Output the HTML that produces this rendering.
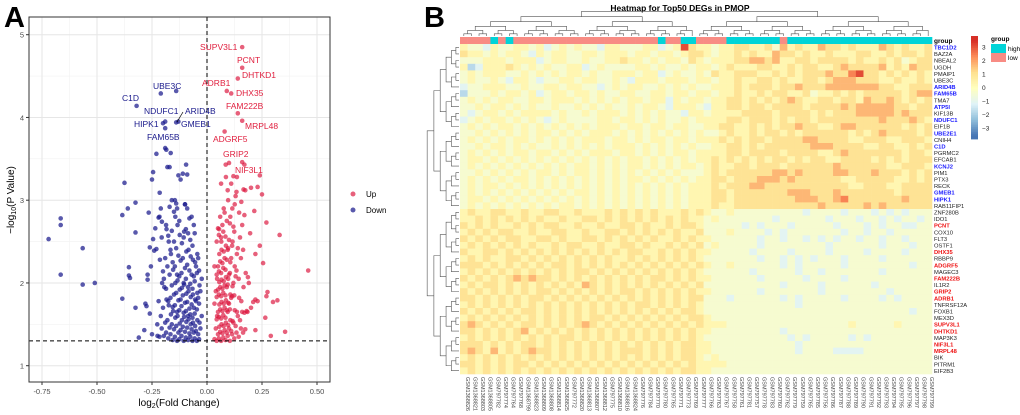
<!DOCTYPE html>
<html><head><meta charset="utf-8"><style>
body{margin:0;background:#fff;width:1020px;height:415px;overflow:hidden;font-family:"Liberation Sans",sans-serif}
svg{display:block}
</style></head><body>
<svg id="fig" width="1020" height="415" xmlns="http://www.w3.org/2000/svg" font-family="Liberation Sans, sans-serif">
<text x="4" y="27" font-size="29" font-weight="bold">A</text>
<text x="424" y="27" font-size="29" font-weight="bold">B</text>
<g id="volcano"></g>
<g id="heat"></g>
</svg>
<script>
const NS="http://www.w3.org/2000/svg";
function mk(p,t,a){const e=document.createElementNS(NS,t);for(const k in a)e.setAttribute(k,a[k]);p.appendChild(e);return e;}

/* ---------- Volcano data ---------- */
const xTicks=[-0.75,-0.5,-0.25,0,0.25,0.5];
const xTickLabels=["-0.75","-0.50","-0.25","0.00","0.25","0.50"];
const yTicks=[1,2,3,4,5];
const downOutliers=[[-0.72,2.53],[-0.665,2.78],[-0.665,2.7],[-0.665,2.1],[-0.565,2.42],[-0.565,1.98],[-0.51,2.0],[-0.385,1.81],[-0.385,2.82],[-0.375,3.21],[-0.36,2.9],[-0.355,2.19],[-0.355,2.09],[-0.35,2.06],[-0.325,2.97],[-0.325,2.61],[-0.325,1.7],[-0.31,1.34],[-0.285,1.43],[-0.28,1.75],[-0.275,1.72],[-0.27,2.1],[-0.27,2.04],[-0.265,2.85],[-0.26,1.63],[-0.26,2.43],[-0.255,2.2],[-0.25,3.25],[-0.25,1.38],[-0.245,3.34],[-0.245,2.53],[-0.24,2.39],[-0.235,2.66],[-0.23,3.56],[-0.23,2.41],[-0.225,1.36],[-0.22,2.79],[-0.215,3.09],[-0.21,2.9],[-0.205,2.74],[-0.2,2.14],[-0.19,3.63],[-0.185,3.61],[-0.18,3.4],[-0.17,3.4],[-0.165,3.57],[-0.16,3.0],[-0.15,2.86],[-0.13,3.3],[-0.12,3.25],[-0.11,3.32],[-0.095,3.43],[-0.09,3.31],[-0.1,2.95],[-0.09,2.9],[-0.14,2.96]];
const downCols=[-0.03,-0.04,-0.05,-0.06,-0.07,-0.08,-0.09,-0.10,-0.11,-0.12,-0.13,-0.14,-0.15,-0.16,-0.17,-0.18,-0.19,-0.20,-0.21,-0.22];
const downColY=[[1.32,1.45,1.6,1.75,1.9,2.05,2.15],[1.3,1.38,1.52,1.68,1.82,1.97,2.12,2.3],[1.33,1.42,1.55,1.63,1.78,1.88,2.02,2.2,2.35,2.6],[1.3,1.4,1.48,1.58,1.7,1.8,1.93,2.08,2.25,2.45,2.7],[1.35,1.44,1.52,1.62,1.74,1.86,1.99,2.1,2.28,2.52,2.8],[1.31,1.39,1.5,1.6,1.69,1.83,1.95,2.15,2.32,2.6,2.78],[1.34,1.46,1.56,1.66,1.77,1.9,2.05,2.22,2.4,2.65],[1.3,1.41,1.53,1.64,1.76,1.87,2.0,2.18,2.38,2.55,2.95],[1.36,1.47,1.59,1.72,1.85,1.98,2.12,2.3,2.62],[1.32,1.43,1.55,1.67,1.8,1.94,2.08,2.27,2.48,2.75],[1.3,1.4,1.51,1.65,1.79,1.92,2.1,2.33,2.58,2.9],[1.35,1.48,1.6,1.73,1.88,2.03,2.2,2.42,2.7,3.0],[1.31,1.44,1.58,1.71,1.86,2.0,2.25,2.5,2.8],[1.38,1.5,1.66,1.82,1.97,2.16,2.4,2.63],[1.33,1.46,1.62,1.78,2.1,2.35,2.57,2.92],[1.4,1.55,1.73,1.93,2.2,2.5,2.7],[1.36,1.52,1.8,2.05,2.3,2.65],[1.45,1.7,1.95,2.55],[1.35,1.6,2.0,2.8],[1.5,1.78,2.28]];
const upCols=[0.04,0.05,0.06,0.07,0.08,0.09,0.10,0.11,0.12,0.13,0.14,0.15,0.16,0.17,0.18,0.19];
const upColY=[[1.32,1.45,1.6,1.75,1.9,2.05,2.2],[1.3,1.38,1.47,1.56,1.65,1.74,1.83,1.92,2.01,2.1,2.2,2.35,2.5,2.66],[1.33,1.41,1.5,1.59,1.68,1.77,1.86,1.95,2.04,2.14,2.26,2.4,2.58,2.8],[1.3,1.39,1.48,1.57,1.66,1.75,1.84,1.93,2.02,2.12,2.24,2.38,2.55,2.7,2.9,3.2],[1.34,1.43,1.52,1.61,1.7,1.79,1.88,1.97,2.07,2.18,2.3,2.45,2.62,2.85,3.28],[1.31,1.4,1.49,1.58,1.67,1.76,1.85,1.95,2.05,2.16,2.28,2.42,2.56,2.75,3.0],[1.36,1.45,1.55,1.65,1.75,1.86,1.98,2.1,2.25,2.4,2.52,2.8,3.12],[1.3,1.42,1.54,1.68,1.82,1.96,2.12,2.3,2.5,2.72,3.2],[1.38,1.52,1.67,1.84,2.0,2.2,2.45,2.68,2.95],[1.33,1.48,1.65,1.85,2.08,2.35,2.62,3.05,3.28],[1.4,1.6,1.82,2.15,2.42,2.85,3.1],[1.35,1.55,1.78,2.05,2.55,2.98],[1.45,1.65,1.95,2.3,2.7,3.13],[1.4,1.64,2.12,2.4,2.82],[1.44,1.66,2.07,3.12],[1.65,2.0,2.6]];
const upOutliers=[[0.2,1.7],[0.21,1.77],[0.22,1.43],[0.22,2.35],[0.22,1.8],[0.23,1.78],[0.24,2.45],[0.25,3.07],[0.255,2.24],[0.265,1.58],[0.27,2.73],[0.27,1.84],[0.275,1.89],[0.29,1.36],[0.3,1.77],[0.32,1.79],[0.33,2.58],[0.355,1.41],[0.46,2.15],[0.215,2.87],[0.2,3.15],[0.23,3.16],[0.24,3.3],[0.085,3.43],[0.1,3.45],[0.12,3.29],[0.115,2.9],[0.065,2.5],[0.055,2.65]];
const upGenes=["SUPV3L1","PCNT","DHTKD1","ADRB1","DHX35","FAM222B","MRPL48","ADGRF5","GRIP2","NIF3L1"];
const upGeneX=[0.16,0.16,0.14,0.09,0.11,0.14,0.16,0.08,0.16,0.17];
const upGeneY=[4.85,4.6,4.47,4.32,4.29,4.05,3.96,3.83,3.46,3.43];
const downGenes=["UBE3C","C1D","NDUFC1","ARID4B","GMEB1","HIPK1","FAM65B"];
const downGeneX=[-0.14,-0.32,-0.19,-0.13,-0.14,-0.2,-0.19];
const downGeneY=[4.32,4.14,3.95,3.95,3.94,3.93,3.87];
const extraDown=[[-0.21,4.29]];

const PX0=29,PX1=330,PY0=17,PY1=382;
const sx=v=>207+v*220;
const sy=v=>365.7-(v-1)*82.75;
const V=document.getElementById('volcano');
mk(V,'rect',{x:PX0,y:PY0,width:PX1-PX0,height:PY1-PY0,fill:'#fff'});
for(let i=0;i<xTicks.length-1;i++){const m=(xTicks[i]+xTicks[i+1])/2;mk(V,'line',{x1:sx(m),x2:sx(m),y1:PY0,y2:PY1,stroke:'#f2f2f2','stroke-width':0.6});}
for(let v=1.5;v<5.5;v+=1){mk(V,'line',{x1:PX0,x2:PX1,y1:sy(v),y2:sy(v),stroke:'#f2f2f2','stroke-width':0.6});}
xTicks.forEach((t,i)=>{mk(V,'line',{x1:sx(t),x2:sx(t),y1:PY0,y2:PY1,stroke:'#e6e6e6','stroke-width':1});
 mk(V,'line',{x1:sx(t),x2:sx(t),y1:PY1,y2:PY1+3,stroke:'#333'});
 const tx=mk(V,'text',{x:sx(t),y:PY1+12,'font-size':7.5,fill:'#4d4d4d','text-anchor':'middle'});tx.textContent=xTickLabels[i];
 
 });
yTicks.forEach(t=>{mk(V,'line',{x1:PX0,x2:PX1,y1:sy(t),y2:sy(t),stroke:'#e6e6e6','stroke-width':1});
 mk(V,'line',{x1:PX0-3,x2:PX0,y1:sy(t),y2:sy(t),stroke:'#333'});
 const tx=mk(V,'text',{x:PX0-5,y:sy(t)+3,'font-size':7.5,fill:'#4d4d4d','text-anchor':'end'});tx.textContent=t;
 
 });
function dot(x,y,c){const e=mk(V,'circle',{cx:sx(x),cy:sy(y),r:2.3,fill:c});
 
 }
const DC='rgba(25,25,140,0.72)',UC='rgba(220,20,60,0.68)';
downOutliers.forEach(p=>dot(p[0],p[1],DC));
downCols.forEach((x,i)=>downColY[i].forEach((y,j)=>dot(x+((j%3)-1)*0.006,y,DC)));
extraDown.forEach(p=>dot(p[0],p[1],DC));
downGenes.forEach((g,i)=>dot(downGeneX[i],downGeneY[i],DC));
upOutliers.forEach(p=>dot(p[0],p[1],UC));
upCols.forEach((x,i)=>upColY[i].forEach((y,j)=>dot(x+((j%3)-1)*0.006,y,UC)));
upGenes.forEach((g,i)=>dot(upGeneX[i],upGeneY[i],UC));
mk(V,'line',{x1:PX0,x2:PX1,y1:sy(1.3),y2:sy(1.3),stroke:'#000','stroke-dasharray':'4,3','stroke-width':1});
mk(V,'line',{x1:sx(0),x2:sx(0),y1:PY0,y2:PY1,stroke:'#000','stroke-dasharray':'4,3','stroke-width':1});
mk(V,'rect',{x:PX0,y:PY0,width:PX1-PX0,height:PY1-PY0,fill:'none',stroke:'#333','stroke-width':1});
const upLab=[[200,50],[237,63],[242,78],[202,86],[236,96],[226,109],[245,129],[213,142],[223,157],[235,173]];
const dnLab=[[153,89],[122,101],[144,114],[185,114],[181,127],[134,127],[147,140]];
upGenes.forEach((g,i)=>{const t=mk(V,'text',{x:upLab[i][0],y:upLab[i][1],'font-size':8.5,fill:'#e0203f'});t.textContent=g;
 
 });
downGenes.forEach((g,i)=>{const t=mk(V,'text',{x:dnLab[i][0],y:dnLab[i][1],'font-size':8.5,fill:'#1a1a8c'});t.textContent=g;
 
 });
mk(V,'line',{x1:177,y1:122,x2:183,y2:112,stroke:'#000','stroke-width':0.7});
const yt=mk(V,'text',{x:0,y:0,'font-size':10,transform:'translate(14,200) rotate(-90)','text-anchor':'middle',fill:'#000'});
yt.innerHTML='−log<tspan font-size="7" dy="2">10</tspan><tspan dy="-2">(P Value)</tspan>';

const xt=mk(V,'text',{x:179,y:406,'font-size':10,'text-anchor':'middle',fill:'#000'});
xt.innerHTML='log<tspan font-size="7" dy="2">2</tspan><tspan dy="-2">(Fold Change)</tspan>';

[[194,'Up',UC],[210,'Down',DC]].forEach(l=>{mk(V,'circle',{cx:353,cy:l[0],r:2.5,fill:l[2]});
 const t=mk(V,'text',{x:366,y:l[0]+3,'font-size':8,fill:'#000'});t.textContent=l[1];
 
 });

/* ---------- Heatmap data ---------- */
const genes=["TBC1D2","BAZ2A","NBEAL2","UGDH","PMAIP1","UBE3C","ARID4B","FAM65B","TMA7","ATP5I","KIF13B","NDUFC1","EIF1B","UBE2E1","CNIH4","C1D","PGRMC2","EFCAB1","KCNJ2","PIM1","PTX3","RECK","GMEB1","HIPK1","RAB11FIP1","ZNF280B","IDO1","PCNT","COX10","FLT3","OSTF1","DHX35","RBBP9","ADGRF5","MAGEC3","FAM222B","IL1R2","GRIP2","ADRB1","TNFRSF12A","FOXB1","MEX3D","SUPV3L1","DHTKD1","MAP3K3","NIF3L1","MRPL48","BIK","PITRM1","EIF2B3"];
const blueGenes=["TBC1D2","ARID4B","FAM65B","ATP5I","NDUFC1","UBE2E1","C1D","KCNJ2","GMEB1","HIPK1"];
const redGenes=["PCNT","DHX35","ADGRF5","FAM222B","GRIP2","ADRB1","SUPV3L1","DHTKD1","NIF3L1","MRPL48"];
const groups="LLLLHLHLLLLLLLLLLLLLLLLLLLHLLHHLLLLHHHHHHHLHHHHHHHHHHHHHHHHHHH";
const samples=["GSM1368826","GSM1368821","GSM1368803","GSM1368805","GSM797782","GSM797774","GSM797764","GSM797768","GSM1368799","GSM1368823","GSM1368809","GSM1368808","GSM1368814","GSM1368825","GSM797772","GSM1368820","GSM1368813","GSM1368807","GSM1368812","GSM797775","GSM1368810","GSM1368816","GSM1368824","GSM797776","GSM797784","GSM797770","GSM797780","GSM797765","GSM797771","GSM797773","GSM797769","GSM797777","GSM797766","GSM797763","GSM797767","GSM797758","GSM797761","GSM797781","GSM797757","GSM797778","GSM797783","GSM797760","GSM797762","GSM797779","GSM797759","GSM797765","GSM797785","GSM797756","GSM797786","GSM797787","GSM797788","GSM797789","GSM797790","GSM797791","GSM797792","GSM797793","GSM797794","GSM797795","GSM797796","GSM797797","GSM797798","GSM797799"];
// digit code per cell: value = (d-4.5)*0.7 ; first 35 cols then 27 cols
const rows=[
"54435 44554 53454 54435 54445 53459 65545 56655 64756 55766 56555 76565 56",
"65545 45543 54554 45545 55455 45545 66545 56565 57665 65565 55665 56566 56",
"44455 54555 34554 45445 56554 54554 65455 56677 67556 65666 65655 65645 66",
"52355 56545 45445 53454 44455 45445 45545 65556 65565 66556 76666 75657 66",
"45455 54454 54545 54544 55545 53454 45465 56665 56565 66676 68966 56565 65",
"45445 43554 34455 45544 54355 54555 45545 56556 65655 66567 77666 55655 65",
"34455 54454 45545 54434 54554 45454 54455 56566 65667 66677 77777 66556 66",
"24445 45545 34554 55454 45544 55455 45545 56556 56655 64556 56566 66656 77",
"45454 55445 54555 45454 54554 55354 55455 66565 65676 55665 66576 67656 56",
"44545 54545 44544 54545 44545 54355 54355 66566 56666 56666 76777 77665 66",
"43455 45455 55454 45455 54545 45443 55455 55666 65666 65656 66777 77676 66",
"34545 54545 43454 44455 45545 45445 45555 66566 65656 65666 66666 76667 65",
"45454 55454 54545 45455 54554 55455 44556 65565 65667 66556 77666 66656 56",
"44545 45454 55454 54555 45454 54545 45445 65565 66565 66666 65656 76666 56",
"45454 54554 54545 45554 55454 55455 45556 56566 56666 77666 65566 65566 65",
"44545 54545 44545 45454 55545 45454 54455 66565 66666 67776 66655 66556 56",
"45454 54554 55454 54555 45545 45455 45555 66566 66566 66556 76666 66656 65",
"45545 45454 54545 45454 54554 54545 45565 65656 56656 56655 66665 65656 66",
"45454 54545 45454 55454 54554 54545 54565 56656 66566 66667 66666 65566 65",
"44545 45454 55454 55454 54545 45454 44565 66666 67767 66667 76667 66656 56",
"45454 54554 54545 45454 54554 54545 45566 56667 77676 66666 55666 66556 56",
"45455 45454 54545 45454 54545 45454 55565 66677 66666 66666 65566 65566 66",
"45454 54545 45454 55454 54545 45454 55566 56666 66677 76667 66666 66566 66",
"45545 45454 54545 45454 54545 45454 55566 56666 66667 77667 86666 66676 66",
"45454 54545 45455 45454 54545 45454 55565 56666 66666 66766 66676 76666 66",
"56556 65565 56655 65556 56565 65556 56544 54444 44444 34444 34443 43434 44",
"55656 56565 65565 56656 56565 65656 55454 44444 43444 44434 44344 34344 34",
"65656 55656 56655 65565 56656 55656 65444 44343 44434 44443 44434 34433 44",
"56565 66556 55665 56556 65656 56565 56444 54444 34344 44444 34434 43444 44",
"65656 56655 66565 56656 56565 65565 65544 44443 44344 34343 44344 34434 44",
"56565 65656 55656 65565 56656 55656 56454 44443 44444 44434 44444 34443 44",
"65566 56565 65656 56565 65665 56565 65544 44434 44434 44434 44434 44434 44",
"56565 56656 56565 65656 55656 56565 65444 44443 44343 43444 34444 34444 44",
"66656 56565 65665 65656 56565 65656 56544 54444 44343 44444 34444 44443 44",
"56565 65656 56565 66565 65656 56565 65444 44434 44443 44344 44444 34444 44",
"65656 56767 66565 65656 56565 66565 65544 44443 44444 34444 34444 44444 44",
"56566 56565 65656 57656 56565 65656 56444 44444 44344 44344 44443 44444 44",
"65656 56565 66565 65656 56656 56565 65544 44443 44444 44344 44444 43444 44",
"66565 65656 65656 56565 65656 56565 66444 34444 44343 44444 34444 34344 44",
"56565 65656 56565 65656 56566 56565 65444 44444 44443 44444 44444 44444 44",
"65656 56566 56565 65656 56565 65656 65444 44444 44444 44444 44444 44443 44",
"56565 65656 56565 65665 65656 56565 66544 44444 44444 44444 44444 44444 44",
"67656 56566 56565 67656 56565 65656 56555 44444 44444 44444 45444 44544 44",
"66565 65675 65656 56565 65656 56565 65544 44444 44344 44444 44444 44444 44",
"56565 65656 56566 56565 65656 56565 65444 44444 44434 34444 43434 44444 44",
"66656 56566 56565 65656 56565 65656 65544 44444 44443 44444 44444 44444 44",
"67657 56567 66565 65656 56665 65656 65544 44444 44443 44443 33344 44444 44",
"56565 65656 56565 65656 56565 65656 65454 44444 44444 44444 44444 44444 44",
"66565 65665 65656 56565 65656 56565 65555 44444 44444 44444 44444 44444 44",
"56565 65656 56565 65656 56565 65656 65544 44444 44444 44444 44444 44444 44"
];
const legendTicks=[3,2,1,0,-1,-2,-3];

const H=document.getElementById('heat');
const HX0=460,HX1=932,HY0=44,HY1=374,NC=62,NR=50;
const cw=(HX1-HX0)/NC,rh=(HY1-HY0)/NR;
const stops=[[-3.5,[69,117,180]],[-2.33,[145,191,219]],[-1.17,[224,243,248]],[0,[255,255,191]],[1.17,[254,224,144]],[2.33,[252,141,89]],[3.5,[215,48,39]]];
function col(v){v=Math.max(-3.5,Math.min(3.5,v));for(let i=0;i<stops.length-1;i++){const a=stops[i],b=stops[i+1];if(v<=b[0]){const t=(v-a[0])/(b[0]-a[0]);return 'rgb('+a[1].map((c,k)=>Math.round(c+(b[1][k]-c)*t)).join(',')+')';}}return 'rgb(215,48,39)';}
const rowsClean=rows.map(s=>s.replace(/ /g,''));
function val(r,c){const d=parseInt(rowsClean[r].charAt(c)||'5');return (d-4.5)*0.7;}
for(let r=0;r<NR;r++)for(let c=0;c<NC;c++){const e=mk(H,'rect',{x:HX0+c*cw,y:HY0+r*rh,width:cw+0.3,height:rh+0.3,fill:col(val(r,c))});
 
 }
for(let c=0;c<NC;c++){const e=mk(H,'rect',{x:HX0+c*cw,y:37,width:cw+0.3,height:7,fill:groups[c]==='H'?'#00d4d8':'#f88c84'});
 
 }
const gl=mk(H,'text',{x:934,y:43,'font-size':6.5,'font-weight':'bold'});gl.textContent='group';


genes.forEach((g,r)=>{const c=blueGenes.includes(g)?'#1a1aff':redGenes.includes(g)?'#ee1111':'#222';
 const t=mk(H,'text',{x:934,y:HY0+r*rh+rh/2+2.2,'font-size':5.8,fill:c,'font-weight':c==='#222'?'normal':'bold'});t.textContent=g;
 
 });
samples.forEach((s,c)=>{const x=HX0+c*cw+cw/2+2;const t=mk(H,'text',{x:0,y:0,'font-size':5.5,fill:'#444',transform:`translate(${x},${HY1+3}) rotate(90)`});t.textContent=s;
 
 });
const tt=mk(H,'text',{x:680,y:11,'font-size':8.5,'font-weight':'bold','text-anchor':'middle'});tt.textContent='Heatmap for Top50 DEGs in PMOP';


function tree(a,b){ if(a===b) return {p:a,h:0}; const m=Math.floor((a+b)/2); const L=tree(a,m),R=tree(m+1,b); return {p:(L.p+R.p)/2,h:Math.max(L.h,R.h)+1,L,R}; }
function drawCol(n){ if(!n.L) return; const hy=h=>36-Math.pow(h,1.35)*2.2; const y=hy(n.h); const yl=n.L.L?hy(n.L.h):36, yr=n.R.L?hy(n.R.h):36;
 const xl=HX0+(n.L.p+0.5)*cw,xr=HX0+(n.R.p+0.5)*cw;
 mk(H,'path',{d:`M${xl},${yl}V${y}H${xr}V${yr}`,fill:'none',stroke:'#555','stroke-width':0.6});drawCol(n.L);drawCol(n.R);}
drawCol(tree(0,NC-1));
function drawRow(n){ if(!n.L) return; const hx=h=>HX0-1-Math.pow(h,1.3)*3.1; const x=hx(n.h); const xl=n.L.L?hx(n.L.h):HX0-1, xr=n.R.L?hx(n.R.h):HX0-1;
 const yl=HY0+(n.L.p+0.5)*rh,yr=HY0+(n.R.p+0.5)*rh;
 mk(H,'path',{d:`M${xl},${yl}H${x}V${yr}H${xr}`,fill:'none',stroke:'#555','stroke-width':0.6});drawRow(n.L);drawRow(n.R);}
drawRow(tree(0,NR-1));
const CB0=36,CB1=139;
for(let i=0;i<60;i++){const v=3.8-i*(7.6/60);mk(H,'rect',{x:971,y:CB0+i*(CB1-CB0)/60,width:7,height:(CB1-CB0)/60+0.4,fill:col(v)});}
legendTicks.forEach(t=>{const y=CB0+(3.8-t)/7.6*(CB1-CB0);const e=mk(H,'text',{x:982,y:y+2.5,'font-size':6.5,fill:'#222'});e.textContent=t<0?'−'+(-t):t;
 
 });
const lg=mk(H,'text',{x:991,y:41,'font-size':6.5,'font-weight':'bold'});lg.textContent='group';


mk(H,'rect',{x:991,y:44,width:15,height:9,fill:'#00d4d8'});
mk(H,'rect',{x:991,y:53,width:15,height:9,fill:'#f88c84'});
const lh=mk(H,'text',{x:1008,y:51,'font-size':6.5});lh.textContent='high';


const ll=mk(H,'text',{x:1008,y:60,'font-size':6.5});ll.textContent='low';


</script>
</body></html>
